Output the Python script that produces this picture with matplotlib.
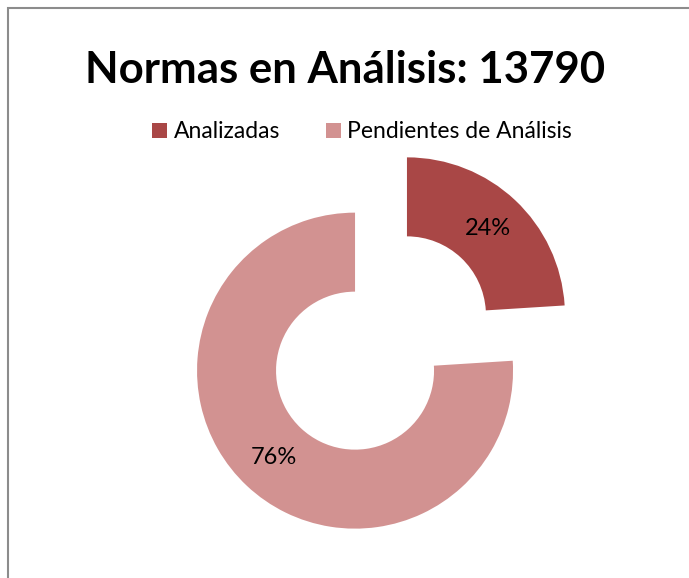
import matplotlib.pyplot as plt
from matplotlib.patches import Rectangle

title = "Normas en Análisis: 13790"
categories = ["Analizadas", "Pendientes de Análisis"]
shares = [24, 76]
colors = ["#A94746", "#D29291"]

W, H = 689, 578
fig = plt.figure(figsize=(W / 100, H / 100), dpi=100)

# chart border (only top and left are visible in the crop)
fig.patches.append(Rectangle((8 / W, -0.1), 1.2, (H - 8) / H + 0.1,
                             transform=fig.transFigure, fill=False,
                             edgecolor="#8C8C8C", linewidth=1.5))

fig.text(345 / W, 1 - 70 / H, title, ha="center", va="center",
         fontsize=31.5, fontweight="bold", family="Lato")

# donut: centre at (381, 343) px, radius 158 px
L = 1.4
size = 2 * L * 158
cx, cy = 381, 343
ax = fig.add_axes([(cx - size / 2) / W, (H - cy - size / 2) / H, size / W, size / H])
wedges, _, autotexts = ax.pie(
    shares, colors=colors, startangle=90, counterclock=False,
    explode=[0.24, 0.24], radius=1.0,
    wedgeprops=dict(width=0.5, linewidth=0),
    autopct="%d%%", pctdistance=0.75,
    textprops=dict(fontsize=17, family="Lato", color="black"))
ax.set_xlim(-L, L)
ax.set_ylim(-L, L)
ax.set_aspect("equal")
ax.axis("off")

fig.legend(wedges, categories, loc="center", bbox_to_anchor=(362 / W, 1 - 132 / H),
           ncol=2, frameon=False, handlelength=0.65, handleheight=0.65,
           handletextpad=0.3, columnspacing=2.0,
           prop=dict(family="Lato", size=16.5))

fig.savefig("out.png", dpi=100)
